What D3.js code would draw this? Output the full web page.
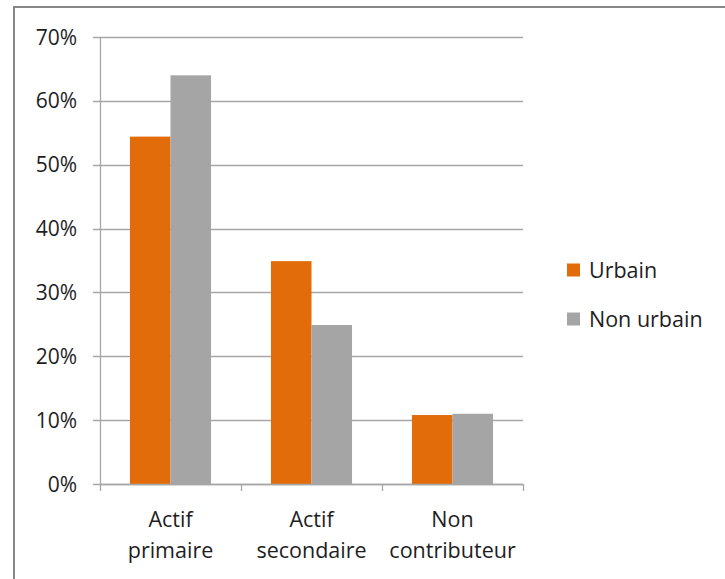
<!DOCTYPE html>
<html>
<head>
<meta charset="utf-8">
<script src="https://cdn.jsdelivr.net/npm/d3@7"></script>
<style>
  body { margin: 0; background: #fff; }
  text { font-family: "Open Sans", "Noto Sans", sans-serif; fill: #1e1e1e; }
</style>
</head>
<body>
<div id="vis"></div>
<script>
// chart data
var categories = [['Actif', 'primaire'], ['Actif', 'secondaire'], ['Non', 'contributeur']];
var seriesNames = ['Urbain', 'Non urbain'];
var urbain = [0.544, 0.349, 0.108];
var nonUrbain = [0.640, 0.249, 0.110];
var yTicks = [0, 0.1, 0.2, 0.3, 0.4, 0.5, 0.6, 0.7];
var colors = ['#e36c0a', '#a5a5a5'];

var width = 725, height = 579;
var margin = { top: 37, left: 100, bottom: 95, right: 202 };

var svg = d3.select('#vis').append('svg')
  .attr('width', width)
  .attr('height', height);

// outer frame
svg.append('rect')
  .attr('x', 14).attr('y', 7)
  .attr('width', width + 10).attr('height', height + 10)
  .attr('fill', 'none')
  .attr('stroke', '#868686')
  .attr('stroke-width', 2);

var x0 = d3.scaleBand()
  .domain(d3.range(categories.length))
  .range([margin.left, width - margin.right])
  .paddingInner(0.425)
  .paddingOuter(0.2125);

var x1 = d3.scaleBand()
  .domain(d3.range(seriesNames.length))
  .range([0, x0.bandwidth()]);

var y = d3.scaleLinear()
  .domain([0, 0.7])
  .range([height - margin.bottom, margin.top]);

// gridlines
svg.append('g')
  .selectAll('line')
  .data(yTicks)
  .join('line')
  .attr('x1', margin.left - 7)
  .attr('x2', width - margin.right)
  .attr('y1', function(d) { return Math.round(y(d)) + 0.5; })
  .attr('y2', function(d) { return Math.round(y(d)) + 0.5; })
  .attr('stroke', '#a6a6a6')
  .attr('stroke-width', 1.3);

// y labels
svg.append('g')
  .selectAll('text')
  .data(yTicks)
  .join('text')
  .attr('x', 77)
  .attr('y', function(d) { return y(d); })
  .attr('dy', '0.36em')
  .attr('text-anchor', 'end')
  .style('font-size', '21px')
  .text(d3.format('.0%'));

// bars
var series = [urbain, nonUrbain];
series.forEach(function(vals, s) {
  svg.append('g')
    .selectAll('rect')
    .data(vals)
    .join('rect')
    .attr('x', function(d, i) { return x0(i) + x1(s); })
    .attr('y', function(d) { return y(d); })
    .attr('width', x1.bandwidth())
    .attr('height', function(d) { return y(0) - y(d); })
    .attr('fill', colors[s]);
});

// axes lines
svg.append('line')
  .attr('x1', margin.left + 0.5).attr('x2', margin.left + 0.5)
  .attr('y1', margin.top).attr('y2', height - margin.bottom)
  .attr('stroke', '#a6a6a6').attr('stroke-width', 1.3);

svg.append('line')
  .attr('x1', margin.left).attr('x2', width - margin.right)
  .attr('y1', y(0) + 0.5).attr('y2', y(0) + 0.5)
  .attr('stroke', '#a6a6a6').attr('stroke-width', 1.3);

// category ticks at band edges
var step = x0.step();
svg.append('g')
  .selectAll('line')
  .data(d3.range(categories.length + 1))
  .join('line')
  .attr('x1', function(i) { return margin.left + 0.5 + i * step; })
  .attr('x2', function(i) { return margin.left + 0.5 + i * step; })
  .attr('y1', y(0))
  .attr('y2', y(0) + 7)
  .attr('stroke', '#a6a6a6').attr('stroke-width', 1.3);

// category labels
var catLabels = svg.append('g')
  .selectAll('text')
  .data(categories)
  .join('text')
  .attr('text-anchor', 'middle')
  .style('font-size', '21.5px')
  .attr('transform', function(d, i) {
    return 'translate(' + (x0(i) + x0.bandwidth() / 2) + ',0)';
  });
catLabels.selectAll('tspan')
  .data(function(d) { return d; })
  .join('tspan')
  .attr('x', 0)
  .attr('y', function(d, j) { return 527 + j * 31; })
  .text(function(d) { return d; });

// legend
var legend = svg.append('g')
  .selectAll('g')
  .data(seriesNames)
  .join('g')
  .attr('transform', function(d, i) { return 'translate(567,' + (270 + i * 49) + ')'; });
legend.append('rect')
  .attr('x', 0).attr('y', -6.5)
  .attr('width', 13).attr('height', 13)
  .attr('fill', function(d, i) { return colors[i]; });
legend.append('text')
  .attr('x', 22)
  .attr('dy', '0.36em')
  .style('font-size', '21.5px')
  .text(function(d) { return d; });
</script>
</body>
</html>
